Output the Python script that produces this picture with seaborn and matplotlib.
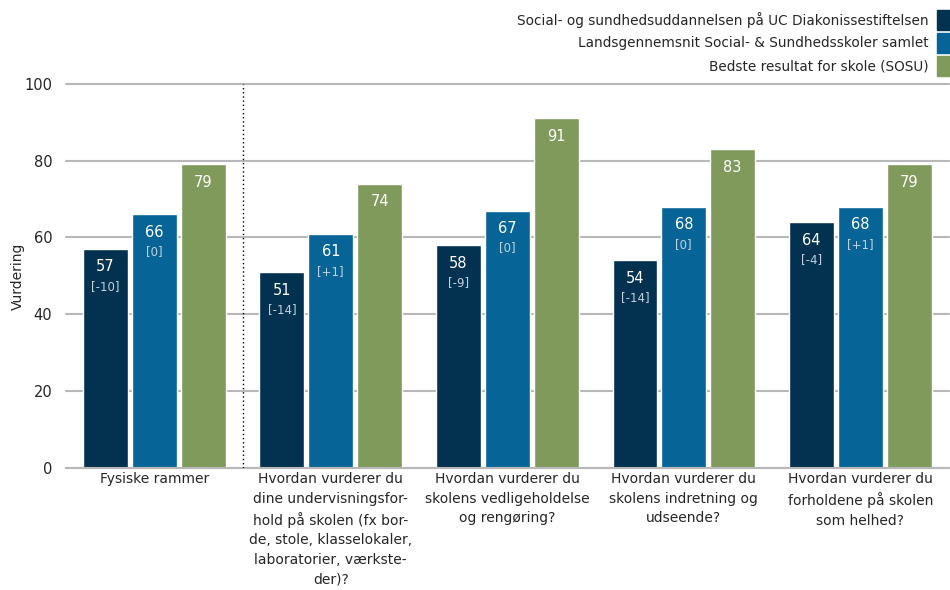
import numpy as np
import pandas as pd
import matplotlib
matplotlib.use("Agg")
import matplotlib.pyplot as plt
import matplotlib.patches as mpatches
import seaborn as sns

# Data
categories = [
    "Fysiske rammer",
    "Hvordan vurderer du\ndine undervisningsfor-\nhold på skolen (fx bor-\nde, stole, klasselokaler,\nlaboratorier, værkste-\nder)?",
    "Hvordan vurderer du\nskolens vedligeholdelse\nog rengøring?",
    "Hvordan vurderer du\nskolens indretning og\nudseende?",
    "Hvordan vurderer du\nforholdene på skolen\nsom helhed?",
]
series_names = [
    "Social- og sundhedsuddannelsen på UC Diakonissestiftelsen",
    "Landsgennemsnit Social- & Sundhedsskoler samlet",
    "Bedste resultat for skole (SOSU)",
]
school_vals = [57, 51, 58, 54, 64]
national_vals = [66, 61, 67, 68, 68]
best_vals = [79, 74, 91, 83, 79]
school_diff = ["[-10]", "[-14]", "[-9]", "[-14]", "[-4]"]
national_diff = ["[0]", "[+1]", "[0]", "[0]", "[+1]"]

colors = ["#02324f", "#066496", "#7f9a5a"]

rows = []
for vals, name in zip([school_vals, national_vals, best_vals], series_names):
    for cat, v in zip(categories, vals):
        rows.append({"kategori": cat, "serie": name, "vaerdi": v})
df = pd.DataFrame(rows)

sns.set_style("white")
plt.rcParams["font.family"] = ["DejaVu Sans"]

fig = plt.figure(figsize=(9.5, 5.9), dpi=100)
ax = fig.add_axes([0.0695, 0.207, 0.929, 0.651])

sns.barplot(data=df, x="kategori", y="vaerdi", hue="serie", hue_order=series_names,
            palette=colors, width=0.83, gap=0.08, saturation=1, legend=False, ax=ax,
            zorder=2)

ax.set_ylim(0, 100)
ax.set_xlim(-0.5, 4.5)
ax.set_yticks([0, 20, 40, 60, 80, 100])
ax.yaxis.grid(True, color="#b8b8b8", linewidth=1.5, zorder=0)
for gl in ax.get_ygridlines():
    gl.set_clip_on(False)
ax.set_axisbelow(True)
for s in ["top", "right", "left"]:
    ax.spines[s].set_visible(False)
ax.spines["bottom"].set_color("#b8b8b8")
ax.spines["bottom"].set_linewidth(1.5)
ax.tick_params(axis="y", length=6, color="#b8b8b8", width=1.5, labelsize=10.5, pad=4)
ax.tick_params(axis="x", length=0, labelsize=10, pad=3)
ax.set_xlabel("")
ax.set_ylabel("Vurdering", fontsize=10)
ax.yaxis.set_label_coords(-0.047, 0.5)
for lbl in ax.get_xticklabels():
    lbl.set_va("top")
    lbl.set_linespacing(1.5)

# separator after first category
ax.axvline(0.5, color="black", linestyle=(0, (1, 2)), linewidth=1, zorder=3)

# value labels inside the bars
diffs = [school_diff, national_diff, None]
for cont, d in zip(ax.containers, diffs):
    for i, bar in enumerate(cont):
        xc = bar.get_x() + bar.get_width() / 2
        h = bar.get_height()
        ax.annotate(f"{h:.0f}", (xc, h), xytext=(0, -13), textcoords="offset points",
                    ha="center", va="center", color="white", fontsize=10.5, zorder=4)
        if d is not None:
            ax.annotate(d[i], (xc, h), xytext=(0, -27), textcoords="offset points",
                        ha="center", va="center", color="#c3d1de", fontsize=8.5, zorder=4)

# legend, right aligned text with swatch on the right
ys = [0.966, 0.927, 0.888]
for name, c, y in zip(series_names, colors, ys):
    fig.text(0.977, y, name, ha="right", va="center", fontsize=9.8)
    fig.patches.append(mpatches.Rectangle((0.986, y - 0.0165), 0.016, 0.033,
                                          transform=fig.transFigure, color=c,
                                          figure=fig))

fig.savefig("out.png", dpi=100)
